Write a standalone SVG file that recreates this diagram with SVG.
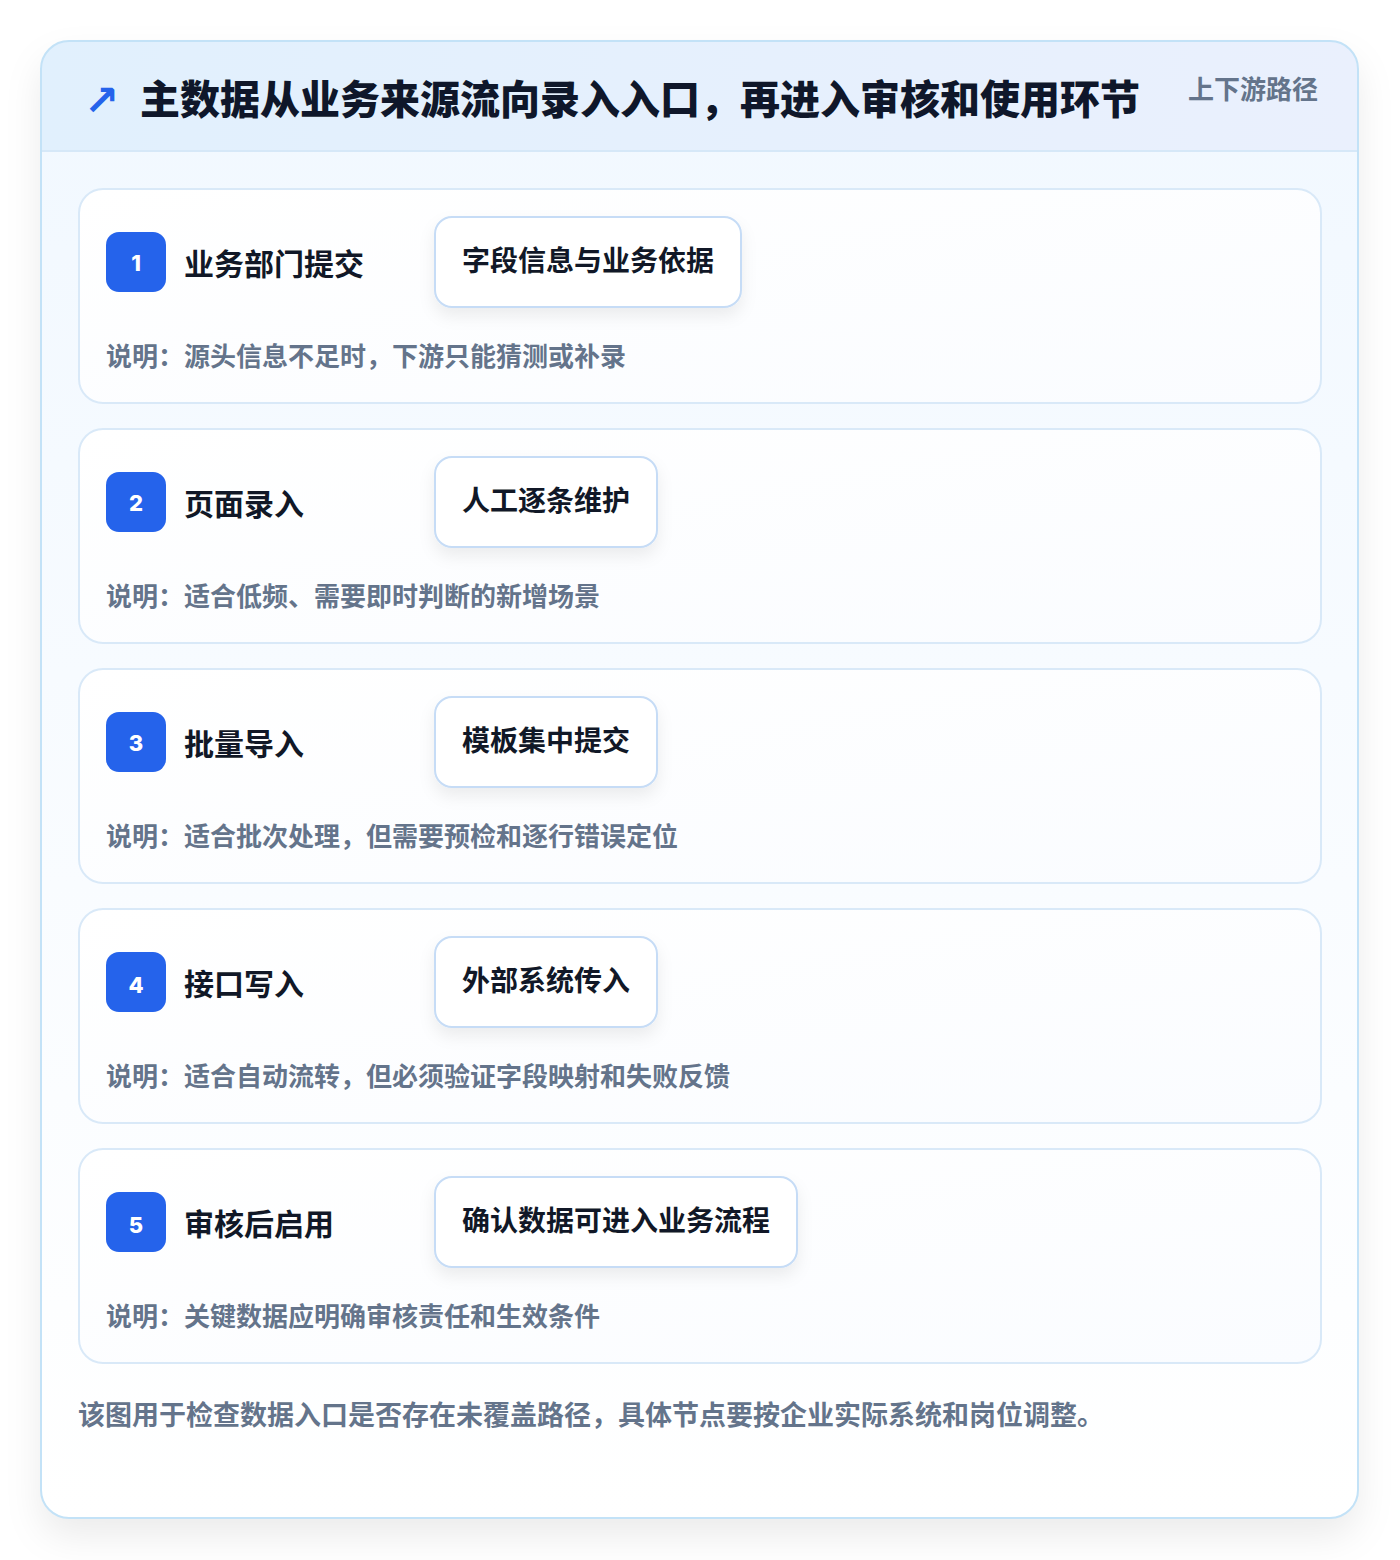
<svg xmlns="http://www.w3.org/2000/svg" width="1400" height="1560" viewBox="0 0 1400 1560">
<defs>
<linearGradient id="hdr" x1="0" y1="0" x2="1" y2="0">
<stop offset="0" stop-color="#e1f0fd"/>
<stop offset="1" stop-color="#eaf0fd"/>
</linearGradient>
<linearGradient id="body" x1="0" y1="0" x2="0" y2="1">
<stop offset="0" stop-color="#f1f8ff"/>
<stop offset="1" stop-color="#ffffff"/>
</linearGradient>
<linearGradient id="card" x1="0" y1="0" x2="1" y2="1">
<stop offset="0" stop-color="#ffffff"/>
<stop offset="1" stop-color="#fafcff"/>
</linearGradient>
<filter id="outerShadow" x="-10%" y="-10%" width="120%" height="120%">
<feDropShadow dx="0" dy="18" stdDeviation="18" flood-color="#0f172a" flood-opacity="0.08"/>
</filter>
<filter id="pillShadow" x="-20%" y="-30%" width="140%" height="180%">
<feDropShadow dx="0" dy="8" stdDeviation="8" flood-color="#0f172a" flood-opacity="0.07"/>
</filter>
<clipPath id="outerClip"><rect x="41" y="41" width="1317" height="1477" rx="28"/></clipPath>
</defs>
<style>
.cn{font-family:"Noto Sans CJK SC","Noto Sans",sans-serif;font-weight:700}
.title{font-size:40px;fill:#0f172a;font-weight:900}
.tag{font-size:26px;fill:#64748b}
.step{font-size:30px;fill:#111827}
.pilltxt{font-size:28px;fill:#111827}
.desc{font-size:26px;fill:#64748b}
.foot{font-size:27px;fill:#64748b}
.num{font-family:"Inter","Liberation Sans",sans-serif;font-weight:800;font-size:22px;fill:#ffffff}
.cardbox{fill:url(#card);stroke:#d9e9f8;stroke-width:2}
.pill{fill:#ffffff;stroke:#c6dcf6;stroke-width:2}
.badge{fill:#2563eb}
</style>
<rect width="1400" height="1560" fill="#ffffff"/>
<g id="frame">
<rect x="41" y="41" width="1317" height="1477" rx="28" fill="url(#body)" filter="url(#outerShadow)"/>
<g clip-path="url(#outerClip)">
<rect x="41" y="41" width="1317" height="110" fill="url(#hdr)"/>
<line x1="41" y1="151" x2="1358" y2="151" stroke="#d6e8f8" stroke-width="2"/>
</g>
<rect x="41" y="41" width="1317" height="1477" rx="28" fill="none" stroke="#c3e2f7" stroke-width="2"/>
</g>
<g id="header">
<text x="84" y="115" font-family="DejaVu Sans,sans-serif" font-size="42" font-weight="700" fill="#2563eb">↗</text>
<text class="cn title" x="140" y="114">主数据从业务来源流向录入入口，再进入审核和使用环节</text>
<text class="cn tag" x="1188" y="99">上下游路径</text>
</g>
<g id="step1">
<rect class="cardbox" x="79" y="189" width="1242" height="214" rx="24"/>
<rect class="badge" x="106" y="232" width="60" height="60" rx="13"/>
<text class="num" x="136" y="271" text-anchor="middle">1</text>
<text class="cn step" x="184" y="275">业务部门提交</text>
<rect class="pill" x="435" y="217" width="306" height="90" rx="17" filter="url(#pillShadow)"/>
<text class="cn pilltxt" x="462" y="271">字段信息与业务依据</text>
<text class="cn desc" x="106" y="366">说明：源头信息不足时，下游只能猜测或补录</text>
</g>
<g id="step2">
<rect class="cardbox" x="79" y="429" width="1242" height="214" rx="24"/>
<rect class="badge" x="106" y="472" width="60" height="60" rx="13"/>
<text class="num" x="136" y="511" text-anchor="middle">2</text>
<text class="cn step" x="184" y="515">页面录入</text>
<rect class="pill" x="435" y="457" width="222" height="90" rx="17" filter="url(#pillShadow)"/>
<text class="cn pilltxt" x="462" y="511">人工逐条维护</text>
<text class="cn desc" x="106" y="606">说明：适合低频、需要即时判断的新增场景</text>
</g>
<g id="step3">
<rect class="cardbox" x="79" y="669" width="1242" height="214" rx="24"/>
<rect class="badge" x="106" y="712" width="60" height="60" rx="13"/>
<text class="num" x="136" y="751" text-anchor="middle">3</text>
<text class="cn step" x="184" y="755">批量导入</text>
<rect class="pill" x="435" y="697" width="222" height="90" rx="17" filter="url(#pillShadow)"/>
<text class="cn pilltxt" x="462" y="751">模板集中提交</text>
<text class="cn desc" x="106" y="846">说明：适合批次处理，但需要预检和逐行错误定位</text>
</g>
<g id="step4">
<rect class="cardbox" x="79" y="909" width="1242" height="214" rx="24"/>
<rect class="badge" x="106" y="952" width="60" height="60" rx="13"/>
<text class="num" x="136" y="993" text-anchor="middle">4</text>
<text class="cn step" x="184" y="995">接口写入</text>
<rect class="pill" x="435" y="937" width="222" height="90" rx="17" filter="url(#pillShadow)"/>
<text class="cn pilltxt" x="462" y="991">外部系统传入</text>
<text class="cn desc" x="106" y="1086">说明：适合自动流转，但必须验证字段映射和失败反馈</text>
</g>
<g id="step5">
<rect class="cardbox" x="79" y="1149" width="1242" height="214" rx="24"/>
<rect class="badge" x="106" y="1192" width="60" height="60" rx="13"/>
<text class="num" x="136" y="1233" text-anchor="middle">5</text>
<text class="cn step" x="184" y="1235">审核后启用</text>
<rect class="pill" x="435" y="1177" width="362" height="90" rx="17" filter="url(#pillShadow)"/>
<text class="cn pilltxt" x="462" y="1231">确认数据可进入业务流程</text>
<text class="cn desc" x="106" y="1326">说明：关键数据应明确审核责任和生效条件</text>
</g>
<g id="footer">
<text class="cn foot" x="78" y="1425">该图用于检查数据入口是否存在未覆盖路径，具体节点要按企业实际系统和岗位调整。</text>
</g>
<g id="connectors"></g>
</svg>
